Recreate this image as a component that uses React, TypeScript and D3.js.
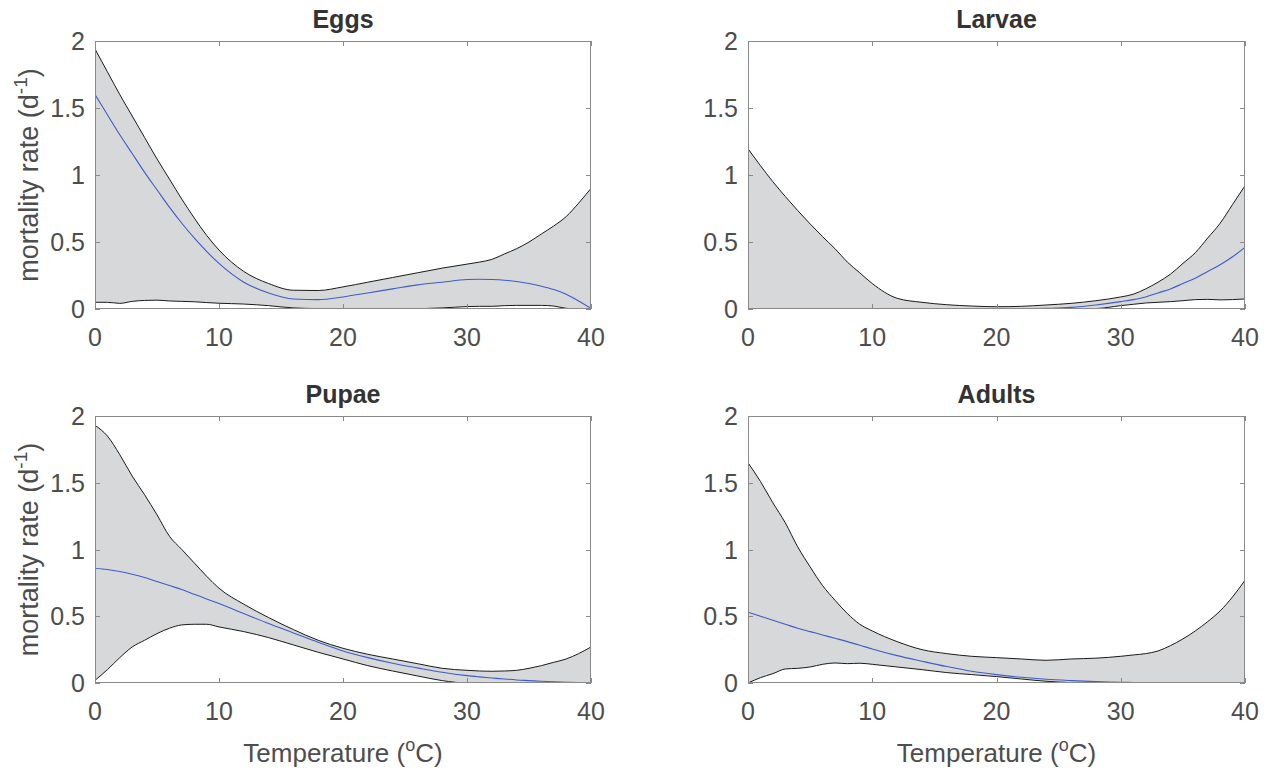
import React from 'react';
import * as d3 from 'd3';

// temperature grid (deg C) shared by all panels
const temps = [0, 1, 2, 3, 4, 5, 6, 7, 8, 9, 10, 12, 14, 16, 18, 20, 22, 24, 26, 28, 30, 31, 32, 33, 34, 35, 36, 37, 38, 39, 40];

const eggsHi = [1.94, 1.77, 1.6, 1.44, 1.28, 1.12, 0.97, 0.82, 0.68, 0.55, 0.44, 0.28, 0.19, 0.14, 0.138, 0.165, 0.2, 0.235, 0.27, 0.305, 0.335, 0.35, 0.37, 0.41, 0.45, 0.5, 0.56, 0.62, 0.69, 0.79, 0.9];
const eggsMid = [1.6, 1.45, 1.3, 1.16, 1.02, 0.89, 0.76, 0.64, 0.53, 0.43, 0.34, 0.2, 0.12, 0.075, 0.07, 0.09, 0.12, 0.15, 0.18, 0.2, 0.22, 0.222, 0.22, 0.215, 0.205, 0.19, 0.17, 0.145, 0.11, 0.06, 0.005];
const eggsLo = [0.05, 0.05, 0.042, 0.057, 0.064, 0.066, 0.06, 0.057, 0.054, 0.048, 0.043, 0.037, 0.025, 0.008, 0.003, 0.001, 0, 0, 0.002, 0.008, 0.018, 0.02, 0.02, 0.025, 0.027, 0.027, 0.027, 0.022, 0.005, 0, 0];

const larvaeHi = [1.195, 1.07, 0.95, 0.84, 0.735, 0.635, 0.54, 0.45, 0.35, 0.27, 0.19, 0.08, 0.05, 0.032, 0.022, 0.017, 0.02, 0.03, 0.042, 0.062, 0.09, 0.11, 0.15, 0.2, 0.26, 0.34, 0.42, 0.53, 0.64, 0.78, 0.92];
const larvaeMid = [0, 0, 0, 0, 0, 0, 0, 0, 0, 0, 0, 0, 0, 0, 0, 0, 0.001, 0.005, 0.012, 0.03, 0.055, 0.07, 0.09, 0.12, 0.15, 0.19, 0.23, 0.28, 0.33, 0.39, 0.46];
const larvaeLo = [0, 0, 0, 0, 0, 0, 0, 0, 0, 0, 0, 0, 0, 0, 0, 0, 0, 0, 0, 0.003, 0.025, 0.035, 0.045, 0.05, 0.055, 0.062, 0.07, 0.072, 0.068, 0.07, 0.075];

const pupaeHi = [1.93, 1.85, 1.71, 1.55, 1.41, 1.26, 1.1, 1.0, 0.9, 0.8, 0.71, 0.59, 0.49, 0.4, 0.32, 0.26, 0.215, 0.18, 0.145, 0.11, 0.095, 0.09, 0.088, 0.09, 0.095, 0.11, 0.13, 0.155, 0.18, 0.22, 0.27];
const pupaeMid = [0.86, 0.85, 0.835, 0.815, 0.79, 0.76, 0.73, 0.7, 0.665, 0.63, 0.595, 0.52, 0.445, 0.375, 0.305, 0.24, 0.19, 0.148, 0.113, 0.08, 0.055, 0.046, 0.038, 0.03, 0.023, 0.018, 0.013, 0.009, 0.006, 0.004, 0.003];
const pupaeLo = [0.02, 0.1, 0.19, 0.27, 0.32, 0.37, 0.41, 0.435, 0.44, 0.44, 0.42, 0.385, 0.34, 0.285, 0.23, 0.18, 0.13, 0.09, 0.053, 0.018, 0, 0, 0, 0, 0, 0, 0, 0, 0, 0, 0];

const adultsHi = [1.65, 1.51, 1.35, 1.2, 1.02, 0.87, 0.73, 0.62, 0.52, 0.44, 0.39, 0.31, 0.25, 0.22, 0.2, 0.19, 0.18, 0.17, 0.18, 0.186, 0.2, 0.21, 0.22, 0.24, 0.28, 0.33, 0.39, 0.46, 0.54, 0.645, 0.77];
const adultsMid = [0.53, 0.5, 0.47, 0.44, 0.41, 0.385, 0.36, 0.335, 0.31, 0.283, 0.255, 0.205, 0.163, 0.123, 0.088, 0.063, 0.043, 0.028, 0.018, 0.01, 0.005, 0.004, 0.003, 0.002, 0.002, 0.001, 0.001, 0.001, 0.001, 0.001, 0.001];
const adultsLo = [0, 0.04, 0.07, 0.105, 0.11, 0.12, 0.14, 0.15, 0.145, 0.148, 0.14, 0.12, 0.1, 0.078, 0.063, 0.048, 0.03, 0.013, 0.003, 0, 0, 0, 0, 0, 0, 0, 0, 0, 0, 0, 0];

const titles = ['Eggs', 'Larvae', 'Pupae', 'Adults'];
const xTicks = [0, 10, 20, 30, 40];
const yTicks = [0, 0.5, 1, 1.5, 2];
const yTickLabels = ['0', '0.5', '1', '1.5', '2'];

const W = 1278, H = 774;
const FONT = '"Liberation Sans", Arial, Helvetica, sans-serif';
const TXT = '#4d4d4d';

const panels = [
  { title: titles[0], hi: eggsHi, mid: eggsMid, lo: eggsLo, left: 95, top: 41, w: 496, h: 268, ylab: true, xlab: false },
  { title: titles[1], hi: larvaeHi, mid: larvaeMid, lo: larvaeLo, left: 748, top: 41, w: 497, h: 268, ylab: false, xlab: false },
  { title: titles[2], hi: pupaeHi, mid: pupaeMid, lo: pupaeLo, left: 95, top: 416, w: 496, h: 267, ylab: true, xlab: true },
  { title: titles[3], hi: adultsHi, mid: adultsMid, lo: adultsLo, left: 748, top: 416, w: 497, h: 267, ylab: false, xlab: true },
];

function Panel({ p, idx }: { p: any; idx: number }) {
  const x = d3.scaleLinear().domain([0, 40]).range([p.left, p.left + p.w]);
  const y = d3.scaleLinear().domain([0, 2]).range([p.top + p.h, p.top]);
  const idxs = temps.map((_, i) => i);

  const band = d3.area<number>()
    .x(i => x(temps[i]))
    .y0(i => y(p.lo[i]))
    .y1(i => y(p.hi[i]))
    .curve(d3.curveMonotoneX);
  const line = (arr: number[]) => d3.line<number>()
    .x(i => x(temps[i]))
    .y(i => y(arr[i]))
    .curve(d3.curveMonotoneX)(idxs) as string;

  const clipId = 'clip' + idx;
  const x0 = p.left, x1 = p.left + p.w, y0 = p.top, y1 = p.top + p.h;
  const tk = 5;

  return (
    <g>
      <defs>
        <clipPath id={clipId}>
          <rect x={x0} y={y0 - 1} width={p.w} height={p.h + 1} />
        </clipPath>
      </defs>
      <g clipPath={`url(#${clipId})`}>
        <path d={band(idxs) as string} fill="#d7d8da" stroke="none" />
        <path d={line(p.hi)} fill="none" stroke="#1a1a1a" strokeWidth={1} />
        <path d={line(p.lo)} fill="none" stroke="#1a1a1a" strokeWidth={1} />
        <path d={line(p.mid)} fill="none" stroke="#3f5cc6" strokeWidth={1.1} />
      </g>
      {/* box */}
      <rect x={x0 + 0.5} y={y0 + 0.5} width={p.w - 1} height={p.h - 1} fill="none" stroke="#8a8a8a" strokeWidth={1} />
      {xTicks.map(t => (
        <g key={'x' + t}>
          <line x1={Math.round(x(t)) + 0.5} x2={Math.round(x(t)) + 0.5} y1={y1} y2={y1 - tk} stroke="#8a8a8a" />
          <line x1={Math.round(x(t)) + 0.5} x2={Math.round(x(t)) + 0.5} y1={y0} y2={y0 + tk} stroke="#8a8a8a" />
          <text x={x(t)} y={y1 + 37} textAnchor="middle" fontSize={25} fill={TXT} fontFamily={FONT}>{t}</text>
        </g>
      ))}
      {yTicks.map((t, i) => (
        <g key={'y' + t}>
          <line x1={x0} x2={x0 + tk} y1={Math.round(y(t)) + 0.5} y2={Math.round(y(t)) + 0.5} stroke="#8a8a8a" />
          <line x1={x1} x2={x1 - tk} y1={Math.round(y(t)) + 0.5} y2={Math.round(y(t)) + 0.5} stroke="#8a8a8a" />
          <text x={x0 - 10} y={y(t) + 9} textAnchor="end" fontSize={25} fill={TXT} fontFamily={FONT}>{yTickLabels[i]}</text>
        </g>
      ))}
      <text x={(x0 + x1) / 2} y={y0 - 13} textAnchor="middle" fontSize={25} fontWeight="bold" fill="#333" fontFamily={FONT}>{p.title}</text>
      {p.ylab && (
        <text transform={`translate(38,${(y0 + y1) / 2}) rotate(-90)`} textAnchor="middle" fontSize={27} fill={TXT} fontFamily={FONT}>
          mortality rate (d<tspan fontSize={19} dy={-11}>-1</tspan><tspan dy={11}>)</tspan>
        </text>
      )}
      {p.xlab && (
        <text x={(x0 + x1) / 2} y={y1 + 79} textAnchor="middle" fontSize={26} fill={TXT} fontFamily={FONT}>
          Temperature (<tspan fontSize={18} dy={-11}>o</tspan><tspan dy={11}>C)</tspan>
        </text>
      )}
    </g>
  );
}

export default function App() {
  return (
    <svg width={W} height={H} style={{ position: 'absolute', left: 0, top: 0, display: 'block', background: '#fff' }}>
      <rect x={0} y={0} width={W} height={H} fill="#fff" />
      {panels.map((p, i) => <Panel key={p.title} p={p} idx={i} />)}
    </svg>
  );
}
